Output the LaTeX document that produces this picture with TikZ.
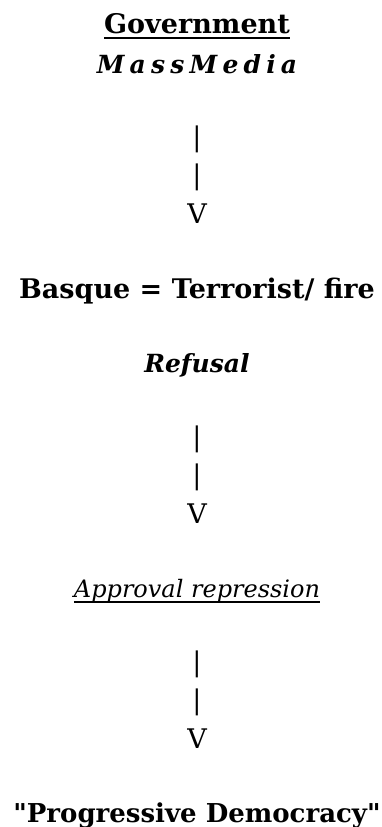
\documentclass[tikz,border=0pt]{standalone}
\usepackage{fontspec}
\newfontfamily\dv{DejaVu Serif}
\begin{document}
\begin{tikzpicture}[x=1pt,y=1pt,
  every node/.style={inner sep=0pt,outer sep=0pt,font=\dv\fontsize{27}{32}\selectfont},
  bold/.style={font=\dv\fontsize{27}{32}\selectfont\bfseries},
  bolditalic/.style={font=\dv\fontsize{25}{30}\selectfont\bfseries\itshape},
  italic/.style={font=\dv\fontsize{24}{29}\selectfont\itshape},
  uline/.style={line width=1.4pt}]
\useasboundingbox (0,0) rectangle (382,-827);
\def\cx{197}
\node[bold,anchor=base] (gov) at (\cx,-33) {Government};
\draw[uline] ([yshift=-5pt]gov.base west) -- ([yshift=-5pt]gov.base east);
\node[bolditalic,anchor=base] (mm) at (\cx,-73) {\spaceskip=5.2pt M a s s M e d i a};
\node (b1) at (\cx,-139) {|};
\node (b2) at (\cx,-177.5) {|};
\node[anchor=base] (v1) at (\cx,-223) {V};
\node[bold,anchor=base] (basque) at (\cx,-298) {Basque = Terrorist/ fire};
\node[bolditalic,anchor=base] (ref) at (\cx,-372) {Refusal};
\node (b3) at (\cx,-439.5) {|};
\node (b4) at (\cx,-477.5) {|};
\node[anchor=base] (v2) at (\cx,-523) {V};
\node[italic,anchor=base] (app) at (\cx,-597) {Approval repression};
\draw[uline] ([yshift=-5pt]app.base west) -- ([yshift=-5pt]app.base east);
\node (b5) at (\cx,-664.5) {|};
\node (b6) at (\cx,-702.5) {|};
\node[anchor=base] (v3) at (\cx,-748) {V};
\node[bold,anchor=base,font=\dv\fontsize{26}{31}\selectfont\bfseries] (prog) at (\cx,-822) {"Progressive Democracy"};
\end{tikzpicture}
\end{document}
